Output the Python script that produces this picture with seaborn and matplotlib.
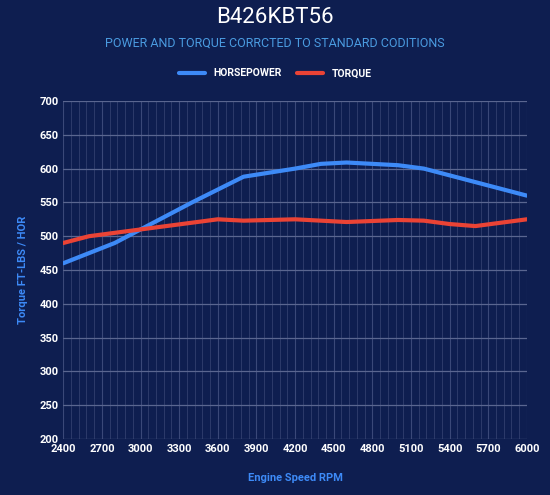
import matplotlib
matplotlib.use("Agg")
import matplotlib.pyplot as plt
import seaborn as sns
import pandas as pd
import numpy as np
from matplotlib.ticker import MultipleLocator

hp_rpm = [2400, 2800, 3000, 3400, 3800, 4200, 4400, 4600, 5000, 5200, 5600, 6000]
hp_val = [460, 490, 510, 550, 588, 600, 607, 609, 605, 600, 580, 560]
tq_rpm = [2400, 2600, 3000, 3600, 3800, 4200, 4600, 5000, 5200, 5400, 5600, 6000]
tq_val = [490, 500, 510, 525, 523, 525, 521, 524, 523, 518, 515, 525]

df = pd.concat([
    pd.DataFrame({"rpm": hp_rpm, "val": hp_val, "s": "HORSEPOWER"}),
    pd.DataFrame({"rpm": tq_rpm, "val": tq_val, "s": "TORQUE"}),
])

bg = "#0e1e50"
sns.set_theme(style="dark")
plt.rcParams['font.family'] = ['Roboto', 'DejaVu Sans']
fig = plt.figure(figsize=(5.5, 4.95), dpi=100, facecolor=bg)
ax = fig.add_axes([0.115, 0.113, 0.843, 0.683])
ax.set_facecolor(bg)
sns.lineplot(data=df, x="rpm", y="val", hue="s", palette={"HORSEPOWER": "#3d8af7", "TORQUE": "#ea4335"},
             linewidth=3, ax=ax, legend=False)
ax.set_xlim(2400, 6000)
ax.set_ylim(200, 700)
ax.set_xticks(np.arange(2400, 6001, 300))
ax.set_yticks(np.arange(200, 701, 50))
ax.xaxis.set_minor_locator(MultipleLocator(60))
ax.grid(which="major", axis="y", color="#5a6690", linewidth=0.9)
ax.grid(which="major", axis="x", color="#3a4878", linewidth=0.8)
ax.grid(which="minor", axis="x", color="#2c3a6a", linewidth=0.7)
for s in ax.spines.values():
    s.set_visible(False)
ax.tick_params(colors="white", labelsize=8, length=0)
for t in ax.get_xticklabels() + ax.get_yticklabels():
    t.set_fontweight("bold")
ax.set_xlabel("Engine Speed RPM", color="#3d8af7", fontsize=8, fontweight="bold", labelpad=14)
ax.set_ylabel("Torque FT-LBS / HOR", color="#3d8af7", fontsize=8, fontweight="bold", labelpad=8)

fig.text(0.5, 0.965, "B426KBT56", color="white", fontsize=16, ha="center", va="center")
fig.text(0.5, 0.912, "POWER AND TORQUE CORRCTED TO STANDARD CODITIONS", color="#4a9be0", fontsize=9, ha="center", va="center")
from matplotlib.lines import Line2D
h = [Line2D([], [], color="#3d8af7", lw=3), Line2D([], [], color="#ea4335", lw=3)]
leg = fig.legend(h, ["HORSEPOWER", "TORQUE"], loc="center", bbox_to_anchor=(0.5, 0.852), ncol=2,
                 frameon=False, fontsize=7.5, handlelength=2.5, columnspacing=1.5)
for t in leg.get_texts():
    t.set_color("white"); t.set_fontweight("bold")
fig.savefig("out.png", dpi=100, facecolor=bg)
